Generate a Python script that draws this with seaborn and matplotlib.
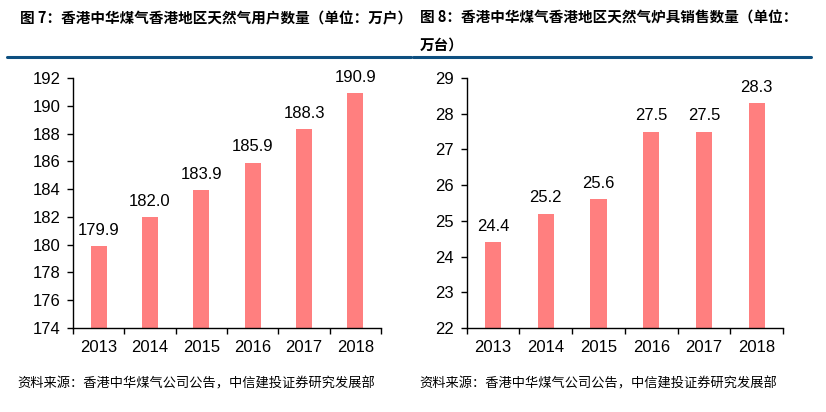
import matplotlib
matplotlib.use("Agg")
import matplotlib.pyplot as plt
import seaborn as sns
import pandas as pd
import numpy as np
from matplotlib.lines import Line2D

years = ["2013", "2014", "2015", "2016", "2017", "2018"]
users = [179.9, 182.0, 183.9, 185.9, 188.3, 190.9]
stoves = [24.4, 25.2, 25.6, 27.5, 27.5, 28.3]
title_left = "图 7：香港中华煤气香港地区天然气用户数量（单位：万户）"
title_right_1 = "图 8：香港中华煤气香港地区天然气炉具销售数量（单位："
title_right_2 = "万台）"
source = "资料来源：香港中华煤气公司公告，中信建投证券研究发展部"

sns.set_theme(style="white")
plt.rcParams['font.family'] = ['Liberation Sans', 'Noto Sans CJK SC', 'DejaVu Sans']

bar_color = "#FF7F7F"
fig = plt.figure(figsize=(8.26, 4.12), dpi=100)

def draw(ax, vals, ylim, step, fmt):
    df = pd.DataFrame({"year": years, "v": vals})
    sns.barplot(data=df, x="year", y="v", ax=ax, color=bar_color, width=0.31,
                saturation=1, edgecolor="none")
    ax.set_ylim(*ylim)
    ax.set_xlim(-0.5, len(years) - 0.5)
    ax.set_yticks(np.arange(ylim[0], ylim[1] + step / 2, step))
    ax.set_xlabel("")
    ax.set_ylabel("")
    for s in ["top", "right"]:
        ax.spines[s].set_visible(False)
    for s in ["left", "bottom"]:
        ax.spines[s].set_color("black")
        ax.spines[s].set_linewidth(1.0)
    ax.set_xticks([i - 0.5 for i in range(len(years) + 1)], minor=True)
    ax.tick_params(axis="x", which="major", length=0, pad=9, labelsize=12, colors="black")
    ax.tick_params(axis="x", which="minor", length=4, width=1, direction="out", color="black", bottom=True)
    ax.tick_params(axis="y", which="major", length=4, width=1, direction="out", left=True,
                   labelsize=12, pad=5, colors="black")
    for c in ax.containers:
        ax.bar_label(c, labels=[fmt.format(v) for v in vals], padding=6, fontsize=12, color="black")

ax1 = fig.add_axes([0.0884, 0.2039, 0.373, 0.6068])
draw(ax1, users, (174, 192), 2, "{:.1f}")
ax2 = fig.add_axes([0.565, 0.2039, 0.383, 0.6068])
draw(ax2, stoves, (22, 29), 1, "{:.1f}")

tfont = dict(family=['Noto Sans CJK SC', 'DejaVu Sans'], fontweight="bold", fontsize=10.5, color="black")
fig.text(20 / 826, 1 - 18 / 412, title_left, va="center", ha="left", **tfont)
fig.text(420 / 826, 1 - 18 / 412, title_right_1, va="center", ha="left", **tfont)
fig.text(420 / 826, 1 - 45 / 412, title_right_2, va="center", ha="left", **tfont)

line_color = "#0D4F80"
fig.add_artist(Line2D([7 / 826, 411 / 826], [1 - 57 / 412] * 2, color=line_color, lw=2.2,
                      transform=fig.transFigure))
fig.add_artist(Line2D([413 / 826, 811 / 826], [1 - 57 / 412] * 2, color=line_color, lw=2.2,
                      transform=fig.transFigure))

sfont = dict(family=['Noto Sans CJK SC', 'DejaVu Sans'], fontsize=9.5, color="black")
fig.text(17 / 826, 1 - 384 / 412, source, va="center", ha="left", **sfont)
fig.text(419 / 826, 1 - 384 / 412, source, va="center", ha="left", **sfont)

fig.savefig("out.png", dpi=100)
